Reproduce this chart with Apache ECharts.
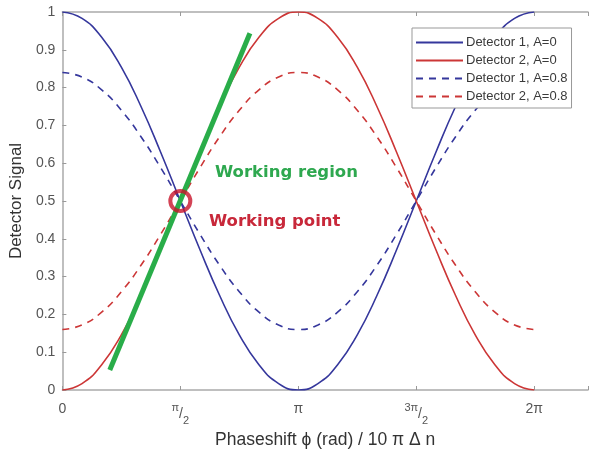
<!DOCTYPE html>
<html>
<head>
<meta charset="utf-8">
<script src="https://cdn.jsdelivr.net/npm/echarts@6/dist/echarts.min.js"></script>
<style>html,body{margin:0;padding:0;background:#fff;}#c{width:591px;height:454px;}</style>
</head>
<body>
<div id="c"></div>
<script>
// phase in units of pi
const phase = [0, 0.0833, 0.1667, 0.25, 0.3333, 0.4167, 0.5, 0.5833, 0.6667, 0.75, 0.8333, 0.9167, 1,
  1.0833, 1.1667, 1.25, 1.3333, 1.4167, 1.5, 1.5833, 1.6667, 1.75, 1.8333, 1.9167, 2];
const det1A0 = [1, 0.983, 0.933, 0.854, 0.75, 0.629, 0.5, 0.371, 0.25, 0.146, 0.067, 0.017, 0,
  0.017, 0.067, 0.146, 0.25, 0.371, 0.5, 0.629, 0.75, 0.854, 0.933, 0.983, 1];
const det2A0 = [0, 0.017, 0.067, 0.146, 0.25, 0.371, 0.5, 0.629, 0.75, 0.854, 0.933, 0.983, 1,
  0.983, 0.933, 0.854, 0.75, 0.629, 0.5, 0.371, 0.25, 0.146, 0.067, 0.017, 0];
const det1A08 = [0.84, 0.828, 0.794, 0.74, 0.67, 0.588, 0.5, 0.412, 0.33, 0.26, 0.206, 0.172, 0.16,
  0.172, 0.206, 0.26, 0.33, 0.412, 0.5, 0.588, 0.67, 0.74, 0.794, 0.828, 0.84];
const det2A08 = [0.16, 0.172, 0.206, 0.26, 0.33, 0.412, 0.5, 0.588, 0.67, 0.74, 0.794, 0.828, 0.84,
  0.828, 0.794, 0.74, 0.67, 0.588, 0.5, 0.412, 0.33, 0.26, 0.206, 0.172, 0.16];
const workingRegion = [[0.201, 0.053], [0.795, 0.944]];
const workingPoint = [[0.5, 0.5]];
const seriesNames = ['Detector 1, A=0', 'Detector 2, A=0', 'Detector 1, A=0.8', 'Detector 2, A=0.8'];
const xTickLabels = {0: '0', 0.5: '{u|π}{s|/}{d|2}', 1: 'π', 1.5: '{u|3π}{s|/}{d|2}', 2: '2π'};

const BLUE = '#35379c', RED = '#cc3636', GREEN = '#29ad49';
const zip = (xs, ys) => xs.map((x, i) => [x, ys[i]]);

const chart = echarts.init(document.getElementById('c'), null, {renderer: 'canvas'});
const axisLine = {show: true, lineStyle: {color: '#aaaaaa', width: 1.5}};
const axisTick = {show: true, inside: true, length: 4, lineStyle: {color: '#999'}};
chart.setOption({
  animation: false,
  backgroundColor: '#fff',
  textStyle: {fontFamily: 'Liberation Sans, Arial, sans-serif'},
  grid: {left: 62, top: 12, right: -3, bottom: 64, show: false},
  legend: {
    data: seriesNames,
    orient: 'vertical',
    left: 412, top: 28,
    padding: [8, 4, 5, 3],
    itemWidth: 47, itemHeight: 14, itemGap: 5,
    itemStyle: {opacity: 0},
    borderColor: '#999', borderWidth: 1, backgroundColor: '#fff',
    textStyle: {fontSize: 13, color: '#3a3a3a', padding: [0, 0, 0, -2]}
  },
  xAxis: [{
    type: 'value', min: 0, max: 2.228, interval: 0.5,
    axisLine, axisTick, splitLine: {show: false},
    axisLabel: {
      color: '#555', fontSize: 14, margin: 12,
      formatter: v => xTickLabels[Math.round(v * 1000) / 1000] || '',
      rich: {
        u: {fontSize: 11, lineHeight: 13, verticalAlign: 'top', color: '#555'},
        s: {fontSize: 14, lineHeight: 24, color: '#555'},
        d: {fontSize: 11, lineHeight: 13, verticalAlign: 'bottom', color: '#555'}
      }
    },
    name: 'Phaseshift ϕ (rad) / 10 π Δ n', nameLocation: 'middle', nameGap: 40,
    nameTextStyle: {fontSize: 17.5, color: '#333'}
  }, {
    type: 'value', position: 'top', min: 0, max: 2.228, interval: 0.5,
    axisLine, axisTick, axisLabel: {show: false}, splitLine: {show: false}
  }],
  yAxis: [{
    type: 'value', min: 0, max: 1, interval: 0.1,
    axisLine, axisTick, splitLine: {show: false},
    axisLabel: {color: '#555', fontSize: 14, margin: 7},
    name: 'Detector Signal', nameLocation: 'middle', nameGap: 35,
    nameTextStyle: {fontSize: 17, color: '#333'}
  }],
  series: [
    {name: seriesNames[0], type: 'line', data: zip(phase, det1A0), smooth: true, symbol: 'none',
     lineStyle: {color: BLUE, width: 1.6}, itemStyle: {color: BLUE}},
    {name: seriesNames[1], type: 'line', data: zip(phase, det2A0), smooth: true, symbol: 'none',
     lineStyle: {color: RED, width: 1.6}, itemStyle: {color: RED}},
    {name: seriesNames[2], type: 'line', data: zip(phase, det1A08), smooth: true, symbol: 'none',
     lineStyle: {color: BLUE, width: 1.6, type: [7, 6]}, itemStyle: {color: BLUE}},
    {name: seriesNames[3], type: 'line', data: zip(phase, det2A08), smooth: true, symbol: 'none',
     lineStyle: {color: RED, width: 1.6, type: [7, 6]}, itemStyle: {color: RED}},
    {name: 'Working region', type: 'line', data: workingRegion, symbol: 'none',
     lineStyle: {color: GREEN, width: 5}, z: 5},
    {name: 'Working point', type: 'scatter', data: workingPoint, symbol: 'circle', symbolSize: 20,
     itemStyle: {color: 'rgba(0,0,0,0)', borderColor: '#c8142a', borderWidth: 4}, z: 6}
  ],
  graphic: [
    {type: 'text', left: 215, top: 164, z: 10,
     style: {text: 'Working region', fill: '#2ea84f', font: 'bold 16.5px "DejaVu Sans", sans-serif'}},
    {type: 'text', left: 209, top: 213, z: 10,
     style: {text: 'Working point', fill: '#c8283a', font: 'bold 16.5px "DejaVu Sans", sans-serif'}}
  ]
});
</script>
</body>
</html>
